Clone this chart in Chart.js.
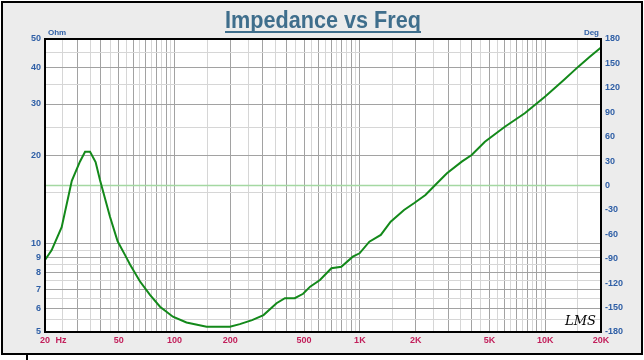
<!DOCTYPE html>
<html><head><meta charset="utf-8">
<script src="https://cdn.jsdelivr.net/npm/chart.js@4"></script>
<style>html,body{margin:0;padding:0;background:#fff}#c{display:block}</style>
</head><body>
<canvas id="c" width="644" height="360"></canvas>
<script>
// ---- data ----
const freqHz = [20, 21.7, 24.6, 27.9, 30.9, 32.9, 35.0, 37.5, 39.6, 44.8, 49.3, 54.1, 57.5, 65, 73.7, 83.5, 98, 116, 149, 199, 225, 262, 302, 355, 394, 445, 494, 539, 609, 702, 794, 916, 996, 1125, 1297, 1466, 1731, 1957, 2258, 2606, 2950, 3546, 4010, 4727, 6057, 7757, 10000, 12600, 15200, 17400, 20000];
const impedanceOhm = [8.8, 9.5, 11.4, 16.4, 19.1, 20.6, 20.6, 19.0, 16.5, 12.4, 10.2, 9.15, 8.5, 7.45, 6.69, 6.10, 5.64, 5.39, 5.21, 5.21, 5.32, 5.49, 5.71, 6.27, 6.52, 6.52, 6.75, 7.14, 7.52, 8.25, 8.35, 9.04, 9.28, 10.17, 10.72, 11.9, 13.05, 13.75, 14.68, 16.09, 17.4, 19.07, 20.09, 22.3, 25.1, 27.9, 31.8, 36.2, 40.4, 43.5, 46.8];
const phaseFreqHz = [20, 20000];
const phaseDeg = [0, 0];

const xGridMajor = [20,30,40,50,60,70,80,90,100,200,300,400,500,600,700,800,900,1000,2000,3000,4000,5000,6000,7000,8000,9000,10000,20000];
const xGridMinor = [25,35,45,55,65,75,85,95,150,250,350,450,550,650,750,850,950,1500,2500,3500,4500,5500,6500,7500,8500,9500,15000];
const xTickValues = [20,50,100,200,500,1000,2000,5000,10000,20000];
const xTickLabels = ['20','50','100','200','500','1K','2K','5K','10K','20K'];
const yGridMajor = [5,6,7,8,9,10,20,30,40,50];
const yGridMinor = [5.5,6.5,7.5,8.5,9.5,15,25,35,45];
const yTickLabels = ['5','6','7','8','9','10','20','30','40','50'];
const phaseTicks = [-180,-150,-120,-90,-60,-30,0,30,60,90,120,150,180];

const DARK = '#a2a2a2', LIGHT = '#d6d6d6';
const BLUE = '#2f5fa6', RED = '#c21f5b';
const tickFont = {family: '"Liberation Sans", Arial, sans-serif', size: 9, weight: 'bold'};

function setTicks(list){ return s => { s.ticks = list.slice().sort((a,b)=>a-b).map(v=>({value:v})); }; }

const decor = {
  id: 'decor',
  beforeDraw(chart){
    const c = chart.ctx, a = chart.chartArea;
    c.save();
    c.fillStyle = '#ffffff'; c.fillRect(0,0,644,360);
    c.fillStyle = '#ececec'; c.fillRect(2,2,640,352);
    c.strokeStyle = '#000'; c.lineWidth = 2; c.strokeRect(2,2,640,352);
    c.beginPath(); c.moveTo(27,354); c.lineTo(27,360); c.stroke();
    c.fillStyle = '#ffffff'; c.fillRect(a.left, a.top, a.right-a.left, a.bottom-a.top);
    c.restore();
  },
  afterDraw(chart){
    const c = chart.ctx, a = chart.chartArea;
    c.save();
    c.strokeStyle = '#000'; c.lineWidth = 2;
    c.strokeRect(a.left, a.top, a.right-a.left, a.bottom-a.top);
    // title
    const t = 'Impedance vs Freq';
    c.font = 'bold 23px "Liberation Sans", Arial, sans-serif';
    const w = c.measureText(t).width, target = 196;
    c.fillStyle = '#3f6e8c'; c.textBaseline = 'alphabetic'; c.textAlign = 'center';
    c.translate(323, 28); c.scale(target / w, 1); c.fillText(t, 0, 0);
    c.setTransform(1,0,0,1,0,0);
    c.fillRect(225, 31, 196, 2);
    // axis unit labels
    c.font = 'bold 8px "Liberation Sans", Arial, sans-serif';
    c.fillStyle = BLUE; c.textAlign = 'left'; c.textBaseline = 'alphabetic';
    c.fillText('Ohm', 48, 35);
    c.textAlign = 'right'; c.fillText('Deg', 599, 35);
    c.font = 'bold 9px "Liberation Sans", Arial, sans-serif';
    c.fillStyle = RED; c.textAlign = 'center'; c.textBaseline = 'middle';
    c.fillText('Hz', 61, 341);
    // LMS logo
    c.font = 'italic 13px "DejaVu Serif", serif';
    c.fillStyle = '#000'; c.textAlign = 'left'; c.textBaseline = 'alphabetic';
    c.fillText('LMS', 565, 325);
    c.restore();
  }
};

new Chart(document.getElementById('c'), {
  type: 'line',
  data: {
    datasets: [
      { label: 'Impedance', data: freqHz.map((f,i)=>({x:f, y:impedanceOhm[i]})), yAxisID: 'y',
        borderColor: '#13891a', borderWidth: 2, pointRadius: 0, tension: 0, order: 0, fill: false },
      { label: 'Phase', data: phaseFreqHz.map((f,i)=>({x:f, y:phaseDeg[i]})), yAxisID: 'y2',
        borderColor: '#a4d8a2', borderWidth: 1.5, pointRadius: 0, tension: 0, order: 1, fill: false }
    ]
  },
  options: {
    responsive: false, animation: false, devicePixelRatio: 1,
    layout: { padding: { top: 39, left: 0, right: 0, bottom: 0 } },
    plugins: { legend: {display:false}, title: {display:false}, tooltip: {enabled:false} },
    scales: {
      x: {
        type: 'logarithmic', min: 20, max: 20000,
        afterBuildTicks: setTicks(xGridMajor.concat(xGridMinor)),
        afterFit: s => { s.height = 28; },
        ticks: { autoSkip: false, maxRotation: 0, padding: 3, color: RED, font: tickFont,
          callback: v => { const i = xTickValues.indexOf(v); return i >= 0 ? xTickLabels[i] : ''; } },
        grid: { color: ctx => xGridMajor.includes(ctx.tick && ctx.tick.value) ? DARK : LIGHT, lineWidth: 1, drawTicks: false },
        border: { display: false }
      },
      y: {
        type: 'logarithmic', position: 'left', min: 5, max: 50,
        afterBuildTicks: setTicks(yGridMajor.concat(yGridMinor)),
        afterFit: s => { s.width = 45; },
        ticks: { autoSkip: false, padding: 4, color: BLUE, font: tickFont,
          callback: v => { const i = yGridMajor.indexOf(v); return i >= 0 ? yTickLabels[i] : ''; } },
        grid: { color: ctx => yGridMajor.includes(ctx.tick && ctx.tick.value) ? DARK : LIGHT, lineWidth: 1, drawTicks: false },
        border: { display: false }
      },
      y2: {
        type: 'linear', position: 'right', min: -180, max: 180,
        afterBuildTicks: s => { s.ticks = phaseTicks.map(v=>({value:v})); },
        afterFit: s => { s.width = 43; },
        ticks: { autoSkip: false, padding: 4, color: BLUE, font: tickFont },
        grid: { drawOnChartArea: false, drawTicks: false },
        border: { display: false }
      }
    }
  },
  plugins: [decor]
});
</script>
</body></html>
